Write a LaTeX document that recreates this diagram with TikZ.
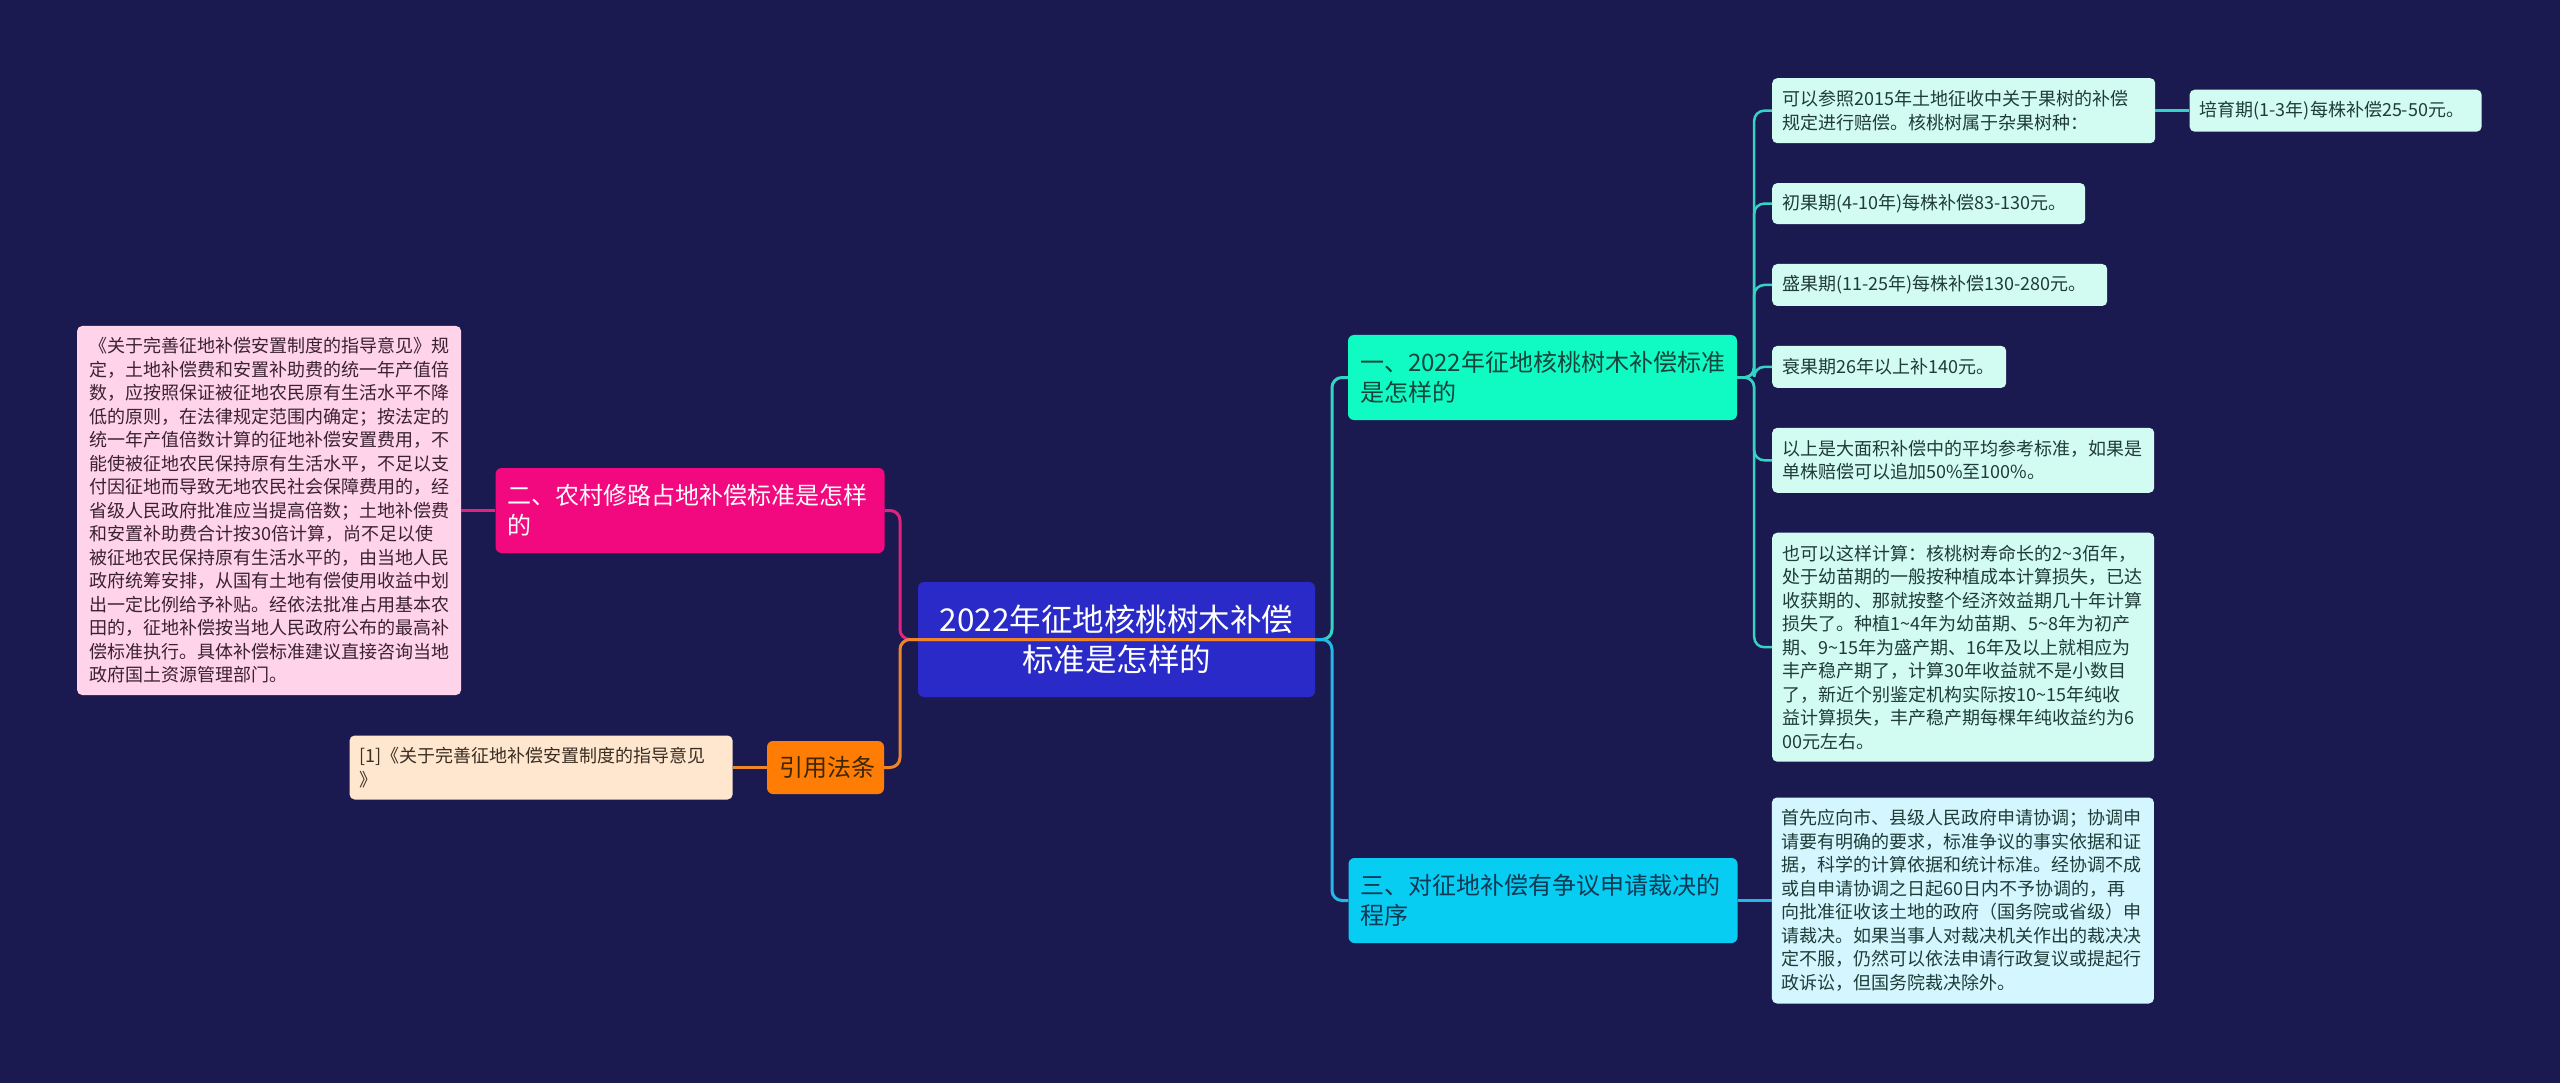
\documentclass[tikz,border=0pt]{standalone}
\usepackage{fontspec}
\setmainfont{Noto Sans CJK SC}
\usepackage{xcolor}
\usetikzlibrary{positioning}
\definecolor{night}{HTML}{1B1A50}
\definecolor{rootblue}{HTML}{2A2AC8}
\definecolor{mint}{HTML}{10FAC4}
\definecolor{sky}{HTML}{08CDF2}
\definecolor{rose}{HTML}{F2087F}
\definecolor{amber}{HTML}{FF7D05}
\definecolor{pinklight}{HTML}{FFD3EA}
\definecolor{peach}{HTML}{FFE6CF}
\definecolor{mintlight}{HTML}{D2FBF2}
\definecolor{skylight}{HTML}{D4F6FF}
\definecolor{leaftext}{HTML}{1F3C38}
\definecolor{minttext}{HTML}{16453C}
\definecolor{skytext}{HTML}{0F3A55}
\definecolor{ambertext}{HTML}{3D2600}
\definecolor{pinktext}{HTML}{3A2231}
\definecolor{peachtext}{HTML}{3A2E22}
\definecolor{tealline}{HTML}{35D3C3}
\definecolor{skyline}{HTML}{25B8E6}
\definecolor{roseline}{HTML}{E0237E}
\definecolor{amberline}{HTML}{F08428}

\begin{document}
\begin{tikzpicture}[
    x=1pt, y=-1pt,
    node distance=39.5pt,
    every node/.style={
        align=left
    },
    centre/.style={
        rectangle,
        rounded corners=6pt,
        fill=rootblue,
        text=white,
        font=\fontsize{31.5pt}{40pt}\selectfont,
        align=center,
        inner xsep=12pt,
        text width=373pt,
        minimum height=115pt
    },
    branch/.style={
        rectangle,
        rounded corners=6pt,
        inner xsep=12pt,
        text width=365pt,
        minimum height=85pt,
        font=\fontsize{24pt}{30pt}\selectfont
    },
    leaf/.style={
        rectangle,
        rounded corners=5pt,
        fill=mintlight,
        text=leaftext,
        inner xsep=10pt,
        inner ysep=6pt,
        font=\fontsize{18pt}{23.5pt}\selectfont
    },
    link/.style={
        line width=3pt,
        rounded corners=10pt
    }
]

\fill[night] (0,0) rectangle (2560,1083);
\useasboundingbox (0,0) rectangle (2560,1083);

\node[centre] (root) at (1116.5,639.5) {2022年征地核桃树木补偿\\标准是怎样的};

\node[branch, fill=mint, text=minttext] (n1) at (1542.5,377.5) {一、2022年征地核桃树木补偿标准\\是怎样的};
\node[branch, fill=sky, text=skytext] (n3) at (1543,900.5) {三、对征地补偿有争议申请裁决的\\程序};
\node[branch, fill=rose, text=white] (n2) at (690,510.5) {二、农村修路占地补偿标准是怎样\\的};
\node[branch, fill=amber, text=ambertext, align=center, text width=93pt, minimum height=53pt] (law) at (825.5,767.5) {引用法条};

\coordinate (trunkL) at (900,639.5);
\coordinate (trunkR) at (1332,639.5);

% left side
\node[leaf, fill=pinklight, text=pinktext, inner xsep=12pt, text width=360pt, minimum height=369pt, left=34pt of n2] (guide) {《关于完善征地补偿安置制度的指导意见》规\\定，土地补偿费和安置补助费的统一年产值倍\\数，应按照保证被征地农民原有生活水平不降\\低的原则，在法律规定范围内确定；按法定的\\统一年产值倍数计算的征地补偿安置费用，不\\能使被征地农民保持原有生活水平，不足以支\\付因征地而导致无地农民社会保障费用的，经\\省级人民政府批准应当提高倍数；土地补偿费\\和安置补助费合计按30倍计算，尚不足以使\\被征地农民保持原有生活水平的，由当地人民\\政府统筹安排，从国有土地有偿使用收益中划\\出一定比例给予补贴。经依法批准占用基本农\\田的，征地补偿按当地人民政府公布的最高补\\偿标准执行。具体补偿标准建议直接咨询当地\\政府国土资源管理部门。};
\node[leaf, fill=peach, text=peachtext, text width=363pt, minimum height=64pt, left=34pt of law] (ref) {[1]《关于完善征地补偿安置制度的指导意见\\》};

% right side
\node[leaf, text width=363pt, minimum height=65pt, anchor=north west] (a1) at (1772,78) {可以参照2015年土地征收中关于果树的补偿\\规定进行赔偿。核桃树属于杂果树种：};
\node[leaf, text width=272pt, minimum height=42pt, right=34pt of a1] (a1b) {培育期(1-3年)每株补偿25-50元。};
\node[leaf, text width=293pt, minimum height=41pt, below right=39.5pt and 0pt of a1.south west] (a2) {初果期(4-10年)每株补偿83-130元。};
\node[leaf, text width=315pt, minimum height=42pt, below right=39.5pt and 0pt of a2.south west] (a3) {盛果期(11-25年)每株补偿130-280元。};
\node[leaf, text width=214pt, minimum height=42pt, below right=39.5pt and 0pt of a3.south west] (a4) {衰果期26年以上补140元。};
\node[leaf, text width=362pt, minimum height=65pt, below right=39.5pt and 0pt of a4.south west] (a5) {以上是大面积补偿中的平均参考标准，如果是\\单株赔偿可以追加50\%至100\%。};
\node[leaf, text width=362pt, minimum height=229pt, below right=39.5pt and 0pt of a5.south west] (a6) {也可以这样计算：核桃树寿命长的2\textasciitilde3佰年，\\处于幼苗期的一般按种植成本计算损失，已达\\收获期的、那就按整个经济效益期几十年计算\\损失了。种植1\textasciitilde4年为幼苗期、5\textasciitilde8年为初产\\期、9\textasciitilde15年为盛产期、16年及以上就相应为\\丰产稳产期了，计算30年收益就不是小数目\\了，新近个别鉴定机构实际按10\textasciitilde15年纯收\\益计算损失，丰产稳产期每棵年纯收益约为6\\00元左右。};
\node[leaf, fill=skylight, text width=362pt, minimum height=206pt, right=34pt of n3] (b1) {首先应向市、县级人民政府申请协调；协调申\\请要有明确的要求，标准争议的事实依据和证\\据，科学的计算依据和统计标准。经协调不成\\或自申请协调之日起60日内不予协调的，再\\向批准征收该土地的政府（国务院或省级）申\\请裁决。如果当事人对裁决机关作出的裁决决\\定不服，仍然可以依法申请行政复议或提起行\\政诉讼，但国务院裁决除外。};

% connectors
\draw[link, tealline] (root.east) -- (trunkR) |- (n1.west);
\draw[link, skyline] (root.east) -- (trunkR) |- (n3.west);
\draw[link, roseline] (root.east) -- (trunkL) |- (n2.east);
\draw[link, amberline] (root.east) -- (trunkL) |- (law.east);

\foreach \leafname in {a1,a2,a3,a4,a5,a6}
    \draw[link, line width=2.5pt, tealline] (n1.east) -- ++(17,0) |- (\leafname.west);
\draw[link, line width=2.5pt, tealline] (a1.east) -- (a1b.west);
\draw[link, line width=2.5pt, skyline] (n3.east) -- (b1.west);
\draw[link, line width=2.5pt, roseline] (n2.west) -- (guide.east);
\draw[link, line width=2.5pt, amberline] (law.west) -- (ref.east);

\end{tikzpicture}
\end{document}
